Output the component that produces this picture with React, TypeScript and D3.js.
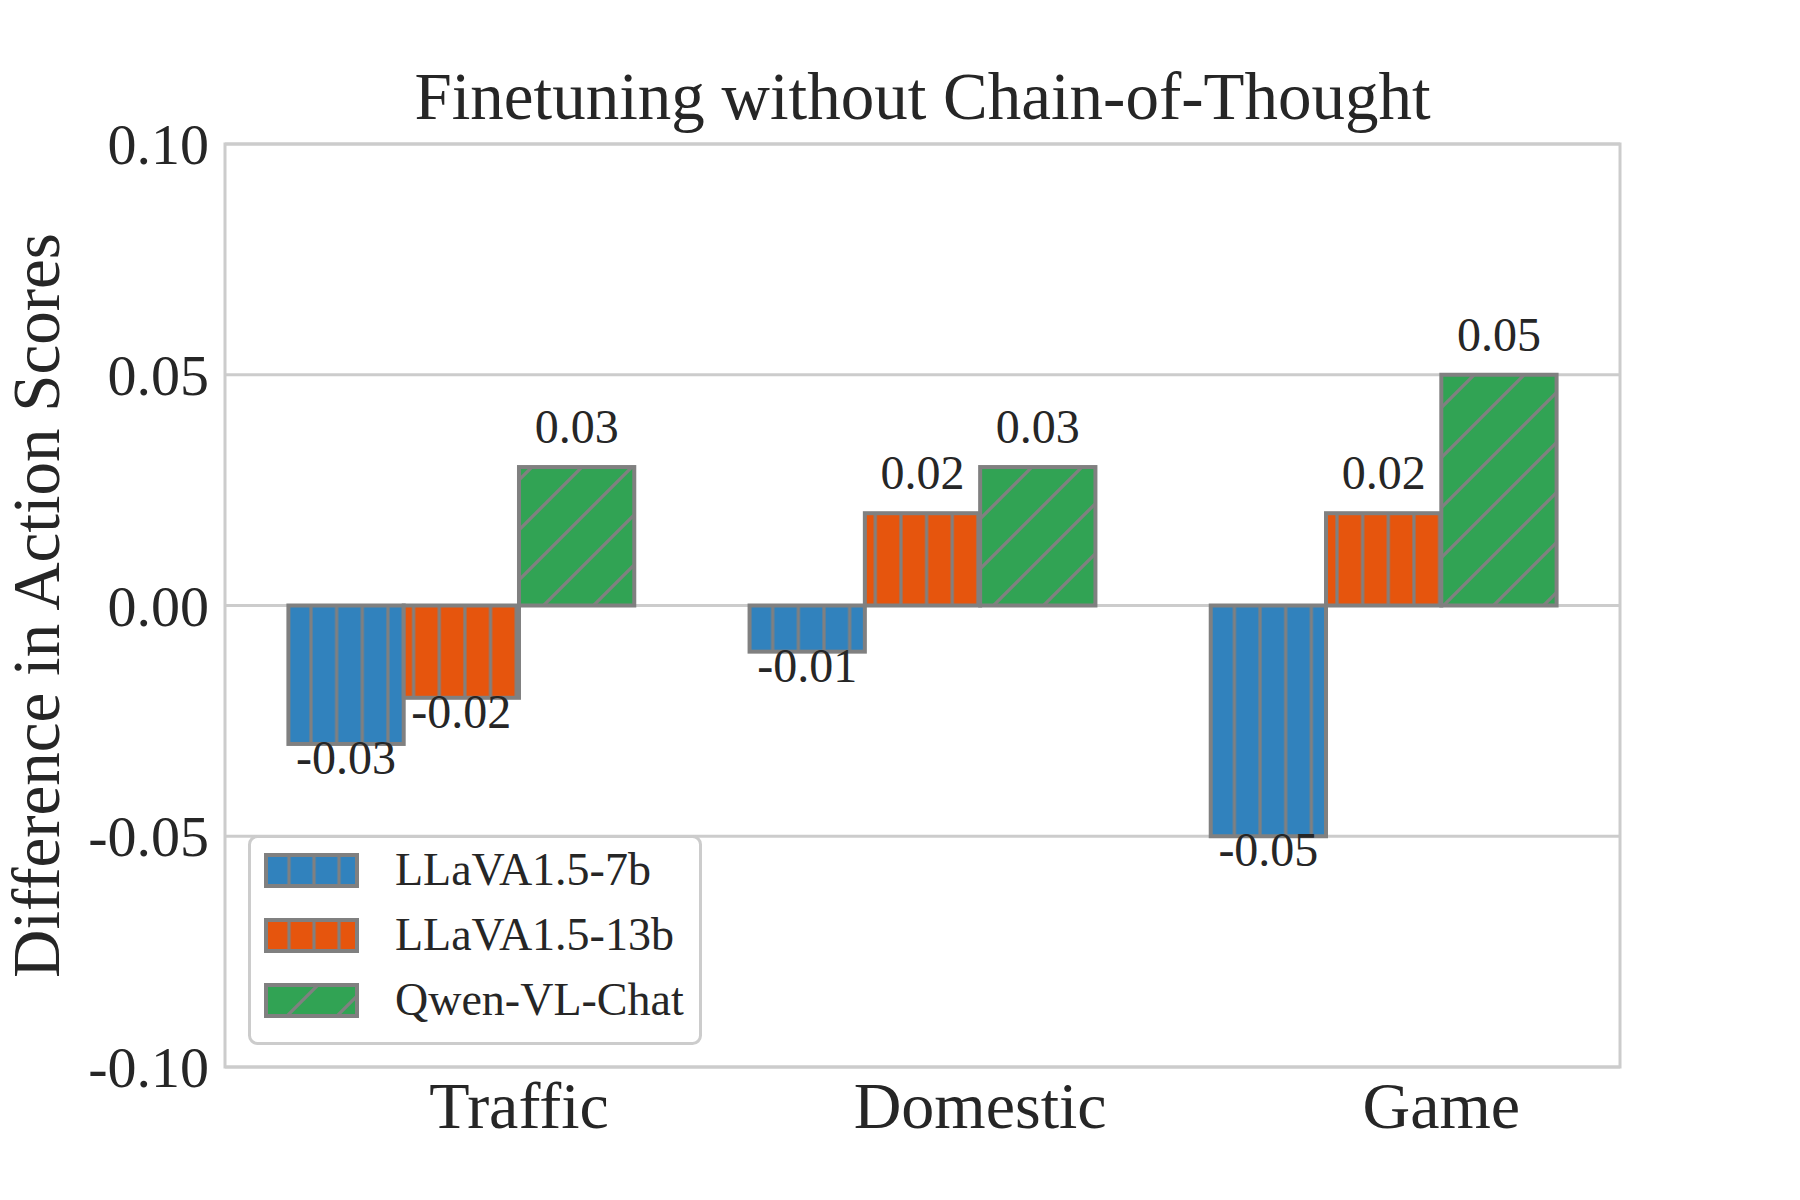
import React, { useEffect, useRef } from 'react'
import * as d3 from 'd3'

const categories = ['Traffic', 'Domestic', 'Game']
const seriesNames = ['LLaVA1.5-7b', 'LLaVA1.5-13b', 'Qwen-VL-Chat']
const llava7b = [-0.03, -0.01, -0.05]
const llava13b = [-0.02, 0.02, 0.02]
const qwen = [0.03, 0.03, 0.05]
const yTicks = [-0.1, -0.05, 0, 0.05, 0.1]
const yTickLabels = ['-0.10', '-0.05', '0.00', '0.05', '0.10']

const colors = ['#3182bd', '#e6550d', '#31a354']
const hatches = ['vert', 'vert', 'diag']
const fontFamily = '"Liberation Serif", "Times New Roman", serif'
const textColor = '#262626'
const edgeColor = '#808080'
const gridColor = '#cccccc'

const W = 1800
const H = 1200
const margin = { top: 144, right: 180, bottom: 133, left: 225 }
const barWidth = 0.25

const Chart = () => {
  const ref = useRef<SVGSVGElement>(null)

  useEffect(() => {
    const svg = d3.select(ref.current)
    svg.selectAll('*').remove()

    const series = [llava7b, llava13b, qwen]
    const x = d3.scaleLinear().domain([-0.6375, 2.3875]).range([margin.left, W - margin.right])
    const y = d3.scaleLinear().domain([-0.1, 0.1]).range([H - margin.bottom, margin.top])

    // hatch patterns (aligned to page like matplotlib does)
    const defs = svg.append('defs')
    const vert = (id: string, phase: number, step: number) => {
      const p = defs
        .append('pattern')
        .attr('id', id)
        .attr('patternUnits', 'userSpaceOnUse')
        .attr('x', phase - step / 2)
        .attr('y', 0)
        .attr('width', step)
        .attr('height', 20)
      p.append('line')
        .attr('x1', step / 2)
        .attr('x2', step / 2)
        .attr('y1', 0)
        .attr('y2', 20)
        .attr('stroke', edgeColor)
        .attr('stroke-width', 3.2)
    }
    const diag = (id: string, phase: number) => {
      const p = defs
        .append('pattern')
        .attr('id', id)
        .attr('patternUnits', 'userSpaceOnUse')
        .attr('x', phase)
        .attr('y', 0)
        .attr('width', 50)
        .attr('height', 50)
      p.append('path')
        .attr('d', 'M0,50L50,0M-25,25L25,-25M25,75L75,25')
        .attr('stroke', edgeColor)
        .attr('stroke-width', 3.2)
    }
    vert('vert', 311, 25.65)
    diag('diag', 49)
    vert('vert-leg', 289, 25)
    diag('diag-leg', 3)

    // grid
    svg
      .append('g')
      .selectAll('line')
      .data(yTicks)
      .join('line')
      .attr('x1', margin.left)
      .attr('x2', W - margin.right)
      .attr('y1', d => y(d))
      .attr('y2', d => y(d))
      .attr('stroke', gridColor)
      .attr('stroke-width', 3)

    // bars
    const bars = svg.append('g')
    series.forEach((vals, si) => {
      vals.forEach((v, ci) => {
        const x0 = x(ci - 0.5 + si * barWidth)
        const x1 = x(ci - 0.5 + (si + 1) * barWidth)
        const top = y(Math.max(0, v))
        const h = Math.abs(y(v) - y(0))
        bars.append('rect').attr('x', x0).attr('y', top).attr('width', x1 - x0).attr('height', h).attr('fill', colors[si])
        bars
          .append('rect')
          .attr('x', x0)
          .attr('y', top)
          .attr('width', x1 - x0)
          .attr('height', h)
          .attr('fill', `url(#${hatches[si]})`)
          .attr('stroke', edgeColor)
          .attr('stroke-width', 4)
        bars
          .append('text')
          .attr('x', (x0 + x1) / 2)
          .attr('y', v >= 0 ? y(v) - 24 : y(v) + 30)
          .attr('text-anchor', 'middle')
          .attr('font-size', 48)
          .attr('font-family', fontFamily)
          .attr('fill', textColor)
          .text(v.toFixed(2))
      })
    })

    // spines
    svg
      .append('rect')
      .attr('x', margin.left)
      .attr('y', margin.top)
      .attr('width', W - margin.left - margin.right)
      .attr('height', H - margin.top - margin.bottom)
      .attr('fill', 'none')
      .attr('stroke', gridColor)
      .attr('stroke-width', 3)

    // y tick labels
    svg
      .append('g')
      .selectAll('text')
      .data(yTicks)
      .join('text')
      .attr('x', 209)
      .attr('y', d => y(d) + 20)
      .attr('text-anchor', 'end')
      .attr('font-size', 58)
      .attr('font-family', fontFamily)
      .attr('fill', textColor)
      .text((d, i) => yTickLabels[i])

    // x tick labels
    svg
      .append('g')
      .selectAll('text')
      .data(categories)
      .join('text')
      .attr('x', (d, i) => x(i))
      .attr('y', 1128)
      .attr('text-anchor', 'middle')
      .attr('font-size', 66)
      .attr('font-family', fontFamily)
      .attr('fill', textColor)
      .text(d => d)

    // title and y label
    svg
      .append('text')
      .attr('x', (margin.left + W - margin.right) / 2)
      .attr('y', 119)
      .attr('text-anchor', 'middle')
      .attr('font-size', 67)
      .attr('font-family', fontFamily)
      .attr('fill', textColor)
      .text('Finetuning without Chain-of-Thought')

    svg
      .append('text')
      .attr('transform', `translate(59,${(margin.top + H - margin.bottom) / 2}) rotate(-90)`)
      .attr('text-anchor', 'middle')
      .attr('font-size', 67)
      .attr('font-family', fontFamily)
      .attr('fill', textColor)
      .text('Difference in Action Scores')

    // legend
    const leg = svg.append('g')
    leg
      .append('rect')
      .attr('x', 249.5)
      .attr('y', 836.5)
      .attr('width', 451)
      .attr('height', 207)
      .attr('rx', 8)
      .attr('fill', 'white')
      .attr('fill-opacity', 0.8)
      .attr('stroke', gridColor)
      .attr('stroke-width', 3)
    seriesNames.forEach((name, i) => {
      const top = 855 + i * 65
      leg.append('rect').attr('x', 266).attr('y', top).attr('width', 91).attr('height', 31).attr('fill', colors[i])
      leg
        .append('rect')
        .attr('x', 266)
        .attr('y', top)
        .attr('width', 91)
        .attr('height', 31)
        .attr('fill', `url(#${hatches[i]}-leg)`)
        .attr('stroke', edgeColor)
        .attr('stroke-width', 4)
      leg
        .append('text')
        .attr('x', 395)
        .attr('y', 885 + i * 65)
        .attr('font-size', 46)
        .attr('font-family', fontFamily)
        .attr('fill', textColor)
        .text(name)
    })
  }, [])

  return <svg ref={ref} width={W} height={H} style={{ position: 'absolute', left: 0, top: 0, background: 'white' }} />
}

const App = () => <Chart />

export default App
